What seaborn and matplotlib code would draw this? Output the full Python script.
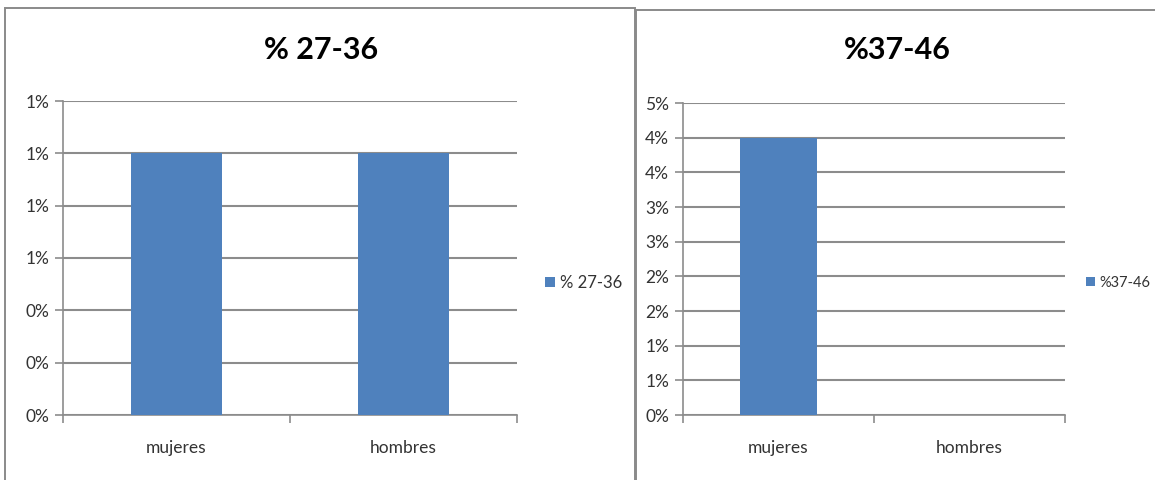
import math
import matplotlib
matplotlib.use("Agg")
import matplotlib.pyplot as plt
from matplotlib.patches import Rectangle
from matplotlib.ticker import FuncFormatter, FixedLocator, NullFormatter
import pandas as pd
import seaborn as sns

# Data
categorias = ["mujeres", "hombres"]
serie_izq = "% 27-36"
valores_izq = [0.010, 0.010]
ticks_izq = [0.000, 0.002, 0.004, 0.006, 0.008, 0.010, 0.012]

serie_der = "%37-46"
valores_der = [0.040, 0.000]
ticks_der = [0.000, 0.005, 0.010, 0.015, 0.020, 0.025, 0.030, 0.035, 0.040, 0.045]

BAR = "#4F81BD"
GRID = "#8C8C8C"
TXT = "#333333"

sns.set_theme(style="white")
plt.rcParams["font.family"] = ["Lato", "DejaVu Sans"]


def pct_excel(v, pos=None):
    # round half away from zero, like a spreadsheet percentage format
    return f"{int(math.floor(v * 100 + 0.5 + 1e-9))}%"


fig = plt.figure(figsize=(11.55, 4.8), dpi=100)
fig.patch.set_facecolor("white")

# panel frames
W, H = 1155, 480
for (x0, y0, x1) in [(5, 8, 635), (636, 10, 1158)]:
    fig.patches.append(Rectangle((x0 / W, -0.05), (x1 - x0) / W, 1.05 - y0 / H,
                                 transform=fig.transFigure, fill=False,
                                 edgecolor="#8A8A8A", linewidth=1.4))


def panel(rect, serie, valores, ticks, title_x, legend_x, legend_fs):
    ax = fig.add_axes(rect)
    df = pd.DataFrame({"categoria": categorias, "valor": valores, "serie": serie})
    sns.barplot(data=df, x="categoria", y="valor", hue="serie",
                palette=[BAR], width=0.4, saturation=1, linewidth=0,
                ax=ax, zorder=3)
    ax.set_xlim(-0.5, 1.5)
    ax.set_ylim(ticks[0], ticks[-1])
    ax.yaxis.set_major_locator(FixedLocator(ticks))
    ax.yaxis.set_major_formatter(FuncFormatter(pct_excel))
    ax.grid(axis="y", color=GRID, linewidth=1.5, zorder=0)
    ax.set_axisbelow(True)
    for s in ["top", "right"]:
        ax.spines[s].set_visible(False)
    for s in ["left", "bottom"]:
        ax.spines[s].set_color(GRID)
        ax.spines[s].set_linewidth(1.2)
    ax.tick_params(axis="y", which="major", length=6, width=1.2, color=GRID,
                   labelsize=12.5, labelcolor=TXT, pad=4, left=True)
    ax.tick_params(axis="x", which="major", length=0, labelsize=12.5,
                   labelcolor=TXT, pad=18)
    ax.xaxis.set_minor_locator(FixedLocator([-0.5, 0.5, 1.5]))
    ax.xaxis.set_minor_formatter(NullFormatter())
    ax.tick_params(axis="x", which="minor", length=6, width=1.2, color=GRID,
                   bottom=True)
    ax.set_xlabel("")
    ax.set_ylabel("")
    fig.text(title_x / W, 1 - 50 / H, serie, ha="center", va="center",
             fontsize=22, fontweight="bold", color="black")
    handles, labels = ax.get_legend_handles_labels()
    ax.legend(handles, labels, loc="center left",
              bbox_to_anchor=(legend_x / W, 1 - 283 / H),
              bbox_transform=fig.transFigure, frameon=False,
              handlelength=0.6, handleheight=0.6, handletextpad=0.3,
              borderpad=0, borderaxespad=0, fontsize=legend_fs,
              labelcolor=TXT)
    return ax


panel([63 / W, 1 - 415 / H, (517 - 63) / W, (415 - 101) / H],
      serie_izq, valores_izq, ticks_izq, 321, 545, 12)
panel([683 / W, 1 - 415 / H, (1065 - 683) / W, (415 - 103) / H],
      serie_der, valores_der, ticks_der, 897, 1086, 10.5)

fig.savefig("out.png", dpi=100, facecolor="white")
